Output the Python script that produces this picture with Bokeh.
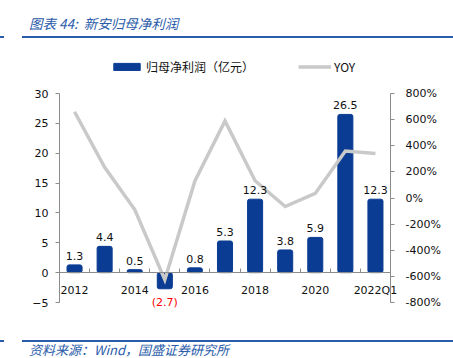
from bokeh.plotting import figure
from bokeh.models import (Range1d, LinearAxis, FixedTicker, PrintfTickFormatter,
                          Legend, LegendItem, ColumnDataSource, Div)
from bokeh.layouts import column
from bokeh.core.properties import value
from bokeh.embed import file_html
from bokeh.resources import INLINE

# ---- data ----
categories = ["2012", "2013", "2014", "2015", "2016", "2017", "2018", "2019", "2020", "2021", "2022Q1"]
profit = [1.3, 4.4, 0.5, -2.7, 0.8, 5.3, 12.3, 3.8, 5.9, 26.5, 12.3]
yoy = [660, 235, -88, -625, 130, 590, 132, -65, 35, 360, 340]
shown_ticks = ["2012", "2014", "2016", "2018", "2020", "2022Q1"]
left_ticks = [-5, 0, 5, 10, 15, 20, 25, 30]
right_ticks = [-800, -600, -400, -200, 0, 200, 400, 600, 800]

BAR = "#0B3C93"
LINE = "#C9C9C9"
AXIS = "#8C8C8C"
NUMFONT = "DejaVu Sans"

# ---- layout constants (page pixels) ----
W = 453
FIG_TOP, FIG_H = 40, 290
AX_LEFT_PX, AX_RIGHT_PX = 59.0, 390.0       # plot area left/right
AX_TOP_PX, AX_BOT_PX = 93.0, 302.0          # plot area top/bottom
LMIN, LMAX = left_ticks[0], left_ticks[-1]
RMIN, RMAX = right_ticks[0], right_ticks[-1]
n = len(categories)

xpx = (AX_RIGHT_PX - AX_LEFT_PX) / n
x0 = -0.5 - AX_LEFT_PX / xpx
x1 = n - 0.5 + (W - AX_RIGHT_PX) / xpx
lpx = (AX_BOT_PX - AX_TOP_PX) / (LMAX - LMIN)
rpx = (AX_BOT_PX - AX_TOP_PX) / (RMAX - RMIN)
fig_bot = FIG_TOP + FIG_H
y_top = LMAX + (AX_TOP_PX - FIG_TOP) / lpx
y_bot = LMIN - (fig_bot - AX_BOT_PX) / lpx
r_top = RMAX + (AX_TOP_PX - FIG_TOP) / rpx
r_bot = RMIN - (fig_bot - AX_BOT_PX) / rpx

xs = list(range(n))
pos = [i for i, v in enumerate(profit) if v >= 0]
neg = [i for i, v in enumerate(profit) if v < 0]

src = ColumnDataSource(dict(x=xs, profit=profit, yoy=yoy))
pos_src = ColumnDataSource(dict(x=[xs[i] for i in pos], y=[profit[i] for i in pos],
                                t=[f"{profit[i]:.1f}" for i in pos]))
neg_src = ColumnDataSource(dict(x=[xs[i] for i in neg], y=[profit[i] for i in neg],
                                t=[f"({abs(profit[i]):.1f})" for i in neg]))

p = figure(width=W, height=FIG_H,
           min_border_left=0, min_border_right=0, min_border_top=0, min_border_bottom=0,
           x_range=Range1d(x0, x1), y_range=Range1d(y_bot, y_top),
           x_axis_location=None, y_axis_location=None,
           output_backend="svg", toolbar_location=None)
p.extra_y_ranges = {"yoy": Range1d(r_bot, r_top)}
p.outline_line_color = None
p.xgrid.visible = False
p.ygrid.visible = False
p.background_fill_color = None
p.border_fill_color = None

bars = p.vbar(x="x", top="profit", bottom=0, width=0.5, source=src,
              fill_color=BAR, line_color=BAR, border_radius=2)
line = p.line(x="x", y="yoy", source=src, y_range_name="yoy",
              line_color=LINE, line_width=3.5, line_join="miter")

# axes (fixed in data space)
la = LinearAxis(ticker=FixedTicker(ticks=left_ticks), fixed_location=-0.5, bounds=(LMIN, LMAX))
la.axis_line_color = AXIS
la.major_tick_line_color = AXIS
la.major_tick_out = 4
la.major_tick_in = 0
la.minor_tick_line_color = None
la.major_label_standoff = 7
la.major_label_text_font = NUMFONT
la.major_label_text_font_size = "11px"
la.major_label_text_color = "#111111"
p.add_layout(la, "left")

ra = LinearAxis(y_range_name="yoy", ticker=FixedTicker(ticks=right_ticks),
                formatter=PrintfTickFormatter(format="%d%%"),
                fixed_location=n - 0.5, bounds=(RMIN, RMAX))
ra.axis_line_color = AXIS
ra.major_tick_line_color = AXIS
ra.major_tick_out = 4
ra.major_tick_in = 0
ra.minor_tick_line_color = None
ra.major_label_standoff = 11
ra.major_label_text_font = NUMFONT
ra.major_label_text_font_size = "11px"
ra.major_label_text_color = "#111111"
p.add_layout(ra, "right")

tick_pos = [categories.index(c) for c in shown_ticks]
xa = LinearAxis(ticker=FixedTicker(ticks=tick_pos, minor_ticks=[i + 0.5 for i in xs[:-1]]),
                fixed_location=0, bounds=(-0.5, n - 0.5))
xa.major_label_overrides = {categories.index(c): c for c in shown_ticks}
xa.axis_line_color = AXIS
xa.major_tick_line_color = None
xa.minor_tick_line_color = AXIS
xa.minor_tick_in = 4
xa.minor_tick_out = 0
xa.major_label_standoff = 5
xa.major_label_text_font = NUMFONT
xa.major_label_text_font_size = "11px"
xa.major_label_text_color = "#111111"
p.add_layout(xa, "below")

# value labels
p.text(x="x", y="y", text="t", source=pos_src, text_align="center", text_baseline="bottom",
       y_offset=-5, text_font=value(NUMFONT), text_font_size="11px", text_color="#111111")
p.text(x="x", y="y", text="t", source=neg_src, text_align="center", text_baseline="top",
       y_offset=7, text_font=value(NUMFONT), text_font_size="11px", text_color="#FF0000")

legend = Legend(items=[LegendItem(label="归母净利润（亿元）", renderers=[bars]),
                       LegendItem(label="YOY", renderers=[line])],
                orientation="horizontal", location=(110, FIG_H - (75 - FIG_TOP)),
                glyph_width=33, glyph_height=9, label_standoff=3, spacing=44,
                padding=0, margin=0, border_line_color=None, background_fill_alpha=0,
                label_text_font="Noto Sans CJK SC", label_text_font_size="12px",
                label_height=12, label_text_color="#111111")
p.add_layout(legend)

title = Div(width=W, height=FIG_TOP, margin=(0, 0, 0, 0), text=(
    f'<div style="position:relative;width:{W}px;height:{FIG_TOP}px;">'
    '<span style="position:absolute;left:29px;top:14px;font-family:\'Noto Sans CJK SC\';'
    'font-style:italic;font-size:13.5px;line-height:18px;color:#2A5CAA;white-space:nowrap;">'
    '图表 44:&nbsp;&nbsp;新安归母净利润</span>'
    '<div style="position:absolute;left:0px;width:4px;top:36px;height:2px;background:#2B5CAB;"></div>'
    '<div style="position:absolute;left:22px;width:431px;top:36px;height:2px;background:#2B5CAB;"></div>'
    '</div>'))
FOOT_H = 358 - FIG_TOP - FIG_H
footer = Div(width=W, height=FOOT_H, margin=(0, 0, 0, 0), text=(
    f'<div style="position:relative;width:{W}px;height:{FOOT_H}px;">'
    '<div style="position:absolute;left:0px;width:4px;top:10px;height:2px;background:#2B5CAB;"></div>'
    '<div style="position:absolute;left:22px;width:431px;top:10px;height:2px;background:#2B5CAB;"></div>'
    '<span style="position:absolute;left:29px;top:12px;font-family:\'Noto Sans CJK SC\';'
    'font-style:italic;font-size:13px;line-height:16px;color:#2A5CAA;white-space:nowrap;">'
    '资料来源：Wind，国盛证券研究所</span>'
    '</div>'))

layout = column(title, p, footer, spacing=0)
open("out.html", "w").write(file_html(layout, INLINE))
